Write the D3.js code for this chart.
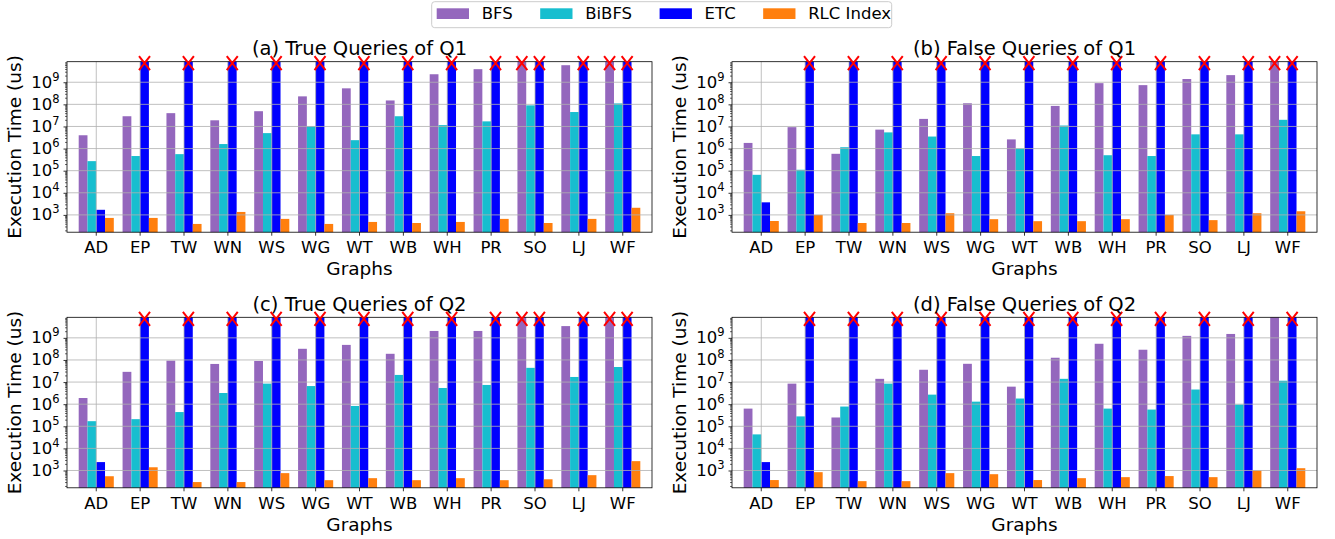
<!DOCTYPE html>
<html>
<head>
<meta charset="utf-8">
<script src="https://cdn.jsdelivr.net/npm/d3@7"></script>
<style>
body{margin:0;background:#fff;}
svg{display:block;font-family:"DejaVu Sans",sans-serif;}
</style>
</head>
<body>
<div id="chart"></div>
<script>
var graphs = ["AD","EP","TW","WN","WS","WG","WT","WB","WH","PR","SO","LJ","WF"];
var seriesNames = ["BFS","BiBFS","ETC","RLC Index"];
var seriesColors = ["#9467bd","#17becf","#0000ff","#ff7f0e"];
var TO = null; // timed out -> bar to the top + red X
var yTicks = [1e3,1e4,1e5,1e6,1e7,1e8,1e9];

// (a) true queries of Q1
var q1TrueBFS   = [4e6,2.9e7,4e7,1.9e7,4.9e7,2.3e8,5.3e8,1.5e8,2.3e9,3.9e9,TO,5.9e9,TO];
var q1TrueBiBFS = [2.7e5,4.6e5,5.6e5,1.6e6,5e6,1.02e7,2.4e6,2.9e7,1.15e7,1.7e7,9e7,4.5e7,1.1e8];
var q1TrueETC   = [1.7e3,TO,TO,TO,TO,TO,TO,TO,TO,TO,TO,TO,TO];
var q1TrueRLC   = [730,730,390,1360,660,390,480,430,480,660,430,660,2100];
// (b) false queries of Q1
var q1FalseBFS   = [1.8e6,9.3e6,5.8e5,7.2e6,2.2e7,1.12e8,2.6e6,8.5e7,9.1e8,7.4e8,1.4e9,2.1e9,TO];
var q1FalseBiBFS = [6.5e4,1.1e5,1.15e6,5.4e6,3.5e6,4.6e5,1.0e6,1.1e7,5e5,4.6e5,4.4e6,4.4e6,2.0e7];
var q1FalseETC   = [3.7e3,TO,TO,TO,TO,TO,TO,TO,TO,TO,TO,TO,TO];
var q1FalseRLC   = [530,1000,430,430,1190,640,520,520,640,1000,580,1190,1460];
// (c) true queries of Q2
var q2TrueBFS   = [1.9e6,2.9e7,9.3e7,6.6e7,9e7,3.2e8,4.8e8,1.9e8,2.05e9,2.05e9,TO,3.4e9,TO];
var q2TrueBiBFS = [1.7e5,2.1e5,4.4e5,3.2e6,8.5e6,6.6e6,8.3e5,2.1e7,5.4e6,7.4e6,4.4e7,1.7e7,4.8e7];
var q2TrueETC   = [2.4e3,TO,TO,TO,TO,TO,TO,TO,TO,TO,TO,TO,TO];
var q2TrueRLC   = [550,1400,300,300,760,365,450,365,450,365,400,615,2650];
// (d) false queries of Q2
var q2FalseBFS   = [6.3e5,8.5e6,2.5e5,1.4e7,3.6e7,6.7e7,6.2e6,1.26e8,5.4e8,2.9e8,1.23e9,1.5e9,9e9];
var q2FalseBiBFS = [4.3e4,2.8e5,7.8e5,8.5e6,2.7e6,1.3e6,1.8e6,1.4e7,6.3e5,5.7e5,4.6e6,9.6e5,1.15e7];
var q2FalseETC   = [2.4e3,TO,TO,TO,TO,TO,TO,TO,TO,TO,TO,TO,TO];
var q2FalseRLC   = [370,840,330,330,760,680,370,450,500,560,500,1000,1270];

var W = 585, H = 170.5;
var panels = [
  {title:"(a) True Queries of Q1",  left:67,  top:61.7,  series:[q1TrueBFS,q1TrueBiBFS,q1TrueETC,q1TrueRLC]},
  {title:"(b) False Queries of Q1", left:732, top:61.7,  series:[q1FalseBFS,q1FalseBiBFS,q1FalseETC,q1FalseRLC]},
  {title:"(c) True Queries of Q2",  left:67,  top:317.3, series:[q2TrueBFS,q2TrueBiBFS,q2TrueETC,q2TrueRLC]},
  {title:"(d) False Queries of Q2", left:732, top:317.3, series:[q2FalseBFS,q2FalseBiBFS,q2FalseETC,q2FalseRLC]}
];

var svg = d3.select("#chart").append("svg")
  .attr("width", 1335)
  .attr("height", 539);
svg.append("rect").attr("width",1335).attr("height",539).attr("fill","#fff");

var minors = [];
for (var k = 2; k <= 9; k++) {
  for (var m = 2; m <= 9; m++) minors.push(m*Math.pow(10,k));
}

function drawPanel(p) {
  var g = svg.append("g").attr("transform","translate("+p.left+","+p.top+")");

  var x = d3.scaleBand().domain(graphs).range([0,W]).paddingInner(0).paddingOuter(1/6);
  var y = d3.scaleLog().domain([165, 8.5e9]).range([H,0]).clamp(true);
  var barW = x.bandwidth()*0.2;

  p.series.forEach(function(vals, si){
    var rows = vals.map(function(v,i){ return {g:graphs[i], v:v}; });
    g.selectAll(null).data(rows).enter().append("rect")
      .attr("x", function(d){ return x(d.g) + x.bandwidth()/2 + (si-2)*barW; })
      .attr("y", function(d){ return d.v===TO ? 0 : y(d.v); })
      .attr("width", barW)
      .attr("height", function(d){ return H - (d.v===TO ? 0 : y(d.v)); })
      .attr("fill", seriesColors[si]);
  });

  // grid on top of the bars (matplotlib default)
  g.selectAll(null).data(yTicks).enter().append("line")
    .attr("x1",0).attr("x2",W)
    .attr("y1",function(d){ return y(d); }).attr("y2",function(d){ return y(d); })
    .attr("stroke","#b0b0b0").attr("stroke-width",0.8);
  g.selectAll(null).data(graphs).enter().append("line")
    .attr("x1",function(d){ return x(d)+x.bandwidth()/2; })
    .attr("x2",function(d){ return x(d)+x.bandwidth()/2; })
    .attr("y1",0).attr("y2",H)
    .attr("stroke","#b0b0b0").attr("stroke-width",0.8);

  var xa = g.append("g").attr("transform","translate(0,"+H+")")
    .call(d3.axisBottom(x).tickSize(3.5).tickSizeOuter(0).tickPadding(5.6));
  xa.select(".domain").remove();
  xa.selectAll("text").attr("font-size","16.5px").attr("font-family","DejaVu Sans").attr("fill","#000");
  xa.selectAll("line").attr("stroke","#000").attr("stroke-width",0.8);

  var ym = g.append("g")
    .call(d3.axisLeft(y).tickValues(minors.filter(function(v){ return v>165 && v<8.5e9; })).tickSize(2).tickFormat(""));
  ym.select(".domain").remove();
  ym.selectAll("line").attr("stroke","#000").attr("stroke-width",0.6);

  var ya = g.append("g")
    .call(d3.axisLeft(y).tickValues(yTicks).tickSize(3.5).tickSizeOuter(0).tickPadding(4));
  ya.select(".domain").remove();
  ya.selectAll("line").attr("stroke","#000").attr("stroke-width",0.8);
  ya.selectAll("text")
    .attr("font-family","DejaVu Sans").attr("fill","#000").attr("dy",null)
    .attr("y",5)
    .each(function(d){
      var t = d3.select(this).text(null);
      t.append("tspan").attr("font-size","16.5px").text("10");
      t.append("tspan").attr("font-size","11.5px").attr("dy",-7).text(Math.round(Math.log10(d)));
    });

  g.append("rect")
    .attr("width",W).attr("height",H)
    .attr("fill","none").attr("stroke","#000").attr("stroke-width",0.8);

  // timeout markers
  p.series.forEach(function(vals, si){
    vals.forEach(function(v,i){
      if (v !== TO) return;
      var cx = x(graphs[i]) + x.bandwidth()/2 + (si-1.5)*barW, cy = 1.5;
      g.append("path")
        .attr("d","M"+(cx-5.5)+","+(cy-7)+"L"+(cx+5.5)+","+(cy+7)+"M"+(cx+5.5)+","+(cy-7)+"L"+(cx-5.5)+","+(cy+7))
        .attr("stroke","#ff0000").attr("stroke-width",2).attr("fill","none");
    });
  });

  g.append("text")
    .attr("x",W/2).attr("y",-6.3)
    .attr("text-anchor","middle").attr("font-size","19.5px")
    .text(p.title);

  g.append("text")
    .attr("x",W/2).attr("y",H+43.3)
    .attr("text-anchor","middle").attr("font-size","18.5px")
    .text("Graphs");

  g.append("text")
    .attr("transform","translate(-46.4,"+(H/2)+") rotate(-90)")
    .attr("text-anchor","middle").attr("font-size","18.5px")
    .text("Execution Time (us)");
}

panels.forEach(drawPanel);

// legend
var lg = svg.append("g");
lg.append("rect")
  .attr("x",431.7).attr("y",1.7).attr("width",460).attr("height",26).attr("rx",3)
  .attr("fill","#fff").attr("stroke","#cccccc").attr("stroke-width",1);
var lx = 436.7;
seriesNames.forEach(function(name, i){
  lg.append("rect")
    .attr("x",lx).attr("y",8.3).attr("width",32.3).attr("height",10.7)
    .attr("fill",seriesColors[i]);
  var t = lg.append("text")
    .attr("x",lx+45).attr("y",19.3)
    .attr("font-size","16.5px")
    .text(name);
  lx = lx + 45 + t.node().getComputedTextLength() + 27.5;
});
</script>
</body>
</html>
